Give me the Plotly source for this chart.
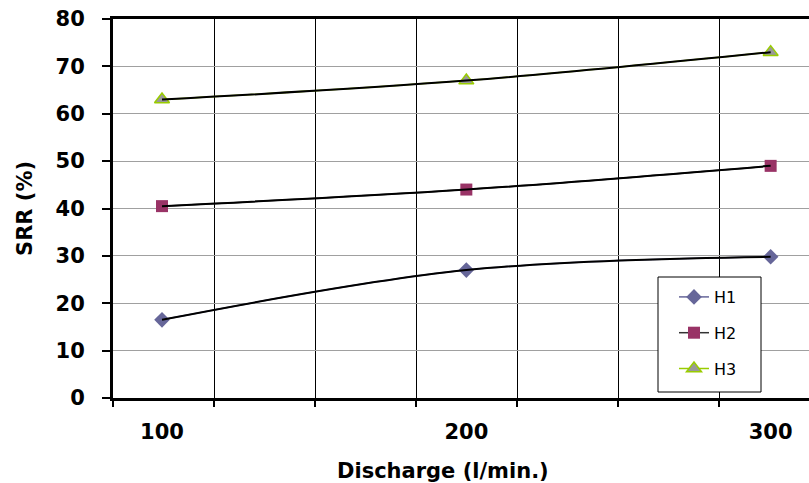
import plotly.graph_objects as go

# ---- data ----
discharge = [100, 200, 300]
h1 = [16.5, 27.0, 29.8]
h2 = [40.5, 44.0, 49.0]
h3 = [63.0, 67.0, 73.0]
series_names = ["H1", "H2", "H3"]
x_tick_labels = ["100", "200", "300"]

# ---- axis config ----
x_min, x_max = 83.9, 312.6
grid_step = 33.2
grid_vals = [x_min + i * grid_step for i in range(7)]

FONT = "DejaVu Sans"

marker_styles = [
    dict(symbol="diamond", size=12, color="#666699", line=dict(width=0)),
    dict(symbol="square", size=12, color="#993366", line=dict(width=0)),
    dict(symbol="triangle-up", size=13, color="#999999", line=dict(width=1.5, color="#99CC00")),
]
line_colors = ["#666699", "#333333", "#99CC00"]

fig = go.Figure()
for i, (name, ys) in enumerate(zip(series_names, [h1, h2, h3])):
    fig.add_trace(go.Scatter(
        x=discharge, y=ys, name=name, mode="lines+markers",
        line=dict(color=line_colors[i], width=1.5, shape="spline"),
        marker=marker_styles[i], legendgroup=name,
    ))
for ys in [h1, h2, h3]:
    fig.add_trace(go.Scatter(
        x=discharge, y=ys, mode="lines", showlegend=False, hoverinfo="skip",
        line=dict(color="black", width=2, shape="spline"),
    ))
# dummy trace for label axis
fig.add_trace(go.Scatter(x=discharge, y=[None] * 3, xaxis="x2", showlegend=False,
                         hoverinfo="skip", mode="markers"))

fig.update_layout(
    width=809, height=483,
    margin=dict(l=113, r=0, t=19, b=85),
    paper_bgcolor="white", plot_bgcolor="white",
    font=dict(family=FONT, color="black"),
    xaxis=dict(
        range=[x_min, x_max], tickvals=grid_vals, showticklabels=False,
        showgrid=True, gridcolor="black", gridwidth=1,
        ticks="outside", ticklen=6, tickwidth=2, tickcolor="black",
        showline=True, linecolor="black", linewidth=2.5, mirror=True,
        zeroline=False,
    ),
    xaxis2=dict(
        range=[x_min, x_max], overlaying="x", side="bottom",
        tickvals=discharge, ticktext=x_tick_labels, ticks="",
        showgrid=False, showline=False, zeroline=False,
        tickfont=dict(family=FONT, size=21, color="black", weight="bold"),
        ticklabelstandoff=19,
    ),
    yaxis=dict(
        range=[0, 80], dtick=10, tick0=0,
        showgrid=True, gridcolor="#a0a0a0", gridwidth=1,
        ticks="outside", ticklen=8, tickwidth=2, tickcolor="black",
        showline=True, linecolor="black", linewidth=3, mirror=False,
        zeroline=False,
        tickfont=dict(family=FONT, size=21, color="black", weight="bold"),
        ticklabelstandoff=13,
        title=dict(text="SRR (%)", font=dict(family=FONT, size=21, color="black", weight="bold"),
                   standoff=18),
    ),
    showlegend=True,
    legend=dict(
        x=(674 - 113) / 696, xanchor="left",
        y=(398 - 280) / 379, yanchor="top",
        bgcolor="rgba(0,0,0,0)", borderwidth=0,
        font=dict(family=FONT, size=16, color="black"),
        tracegroupgap=12, itemwidth=30,
    ),
    shapes=[dict(
        type="rect", xref="paper", yref="paper", layer="above",
        x0=(658 - 113) / 696, x1=(761 - 113) / 696,
        y0=(398 - 392) / 379, y1=(398 - 277) / 379,
        fillcolor="white", line=dict(color="black", width=1),
    )],
    annotations=[dict(
        text="Discharge (l/min.)", xref="paper", yref="paper",
        x=(443 - 113) / 696, y=-(471 - 398) / 379, xanchor="center", yanchor="middle",
        showarrow=False, font=dict(family=FONT, size=21, color="black", weight="bold"),
    )],
)

fig.write_html("out.html")
